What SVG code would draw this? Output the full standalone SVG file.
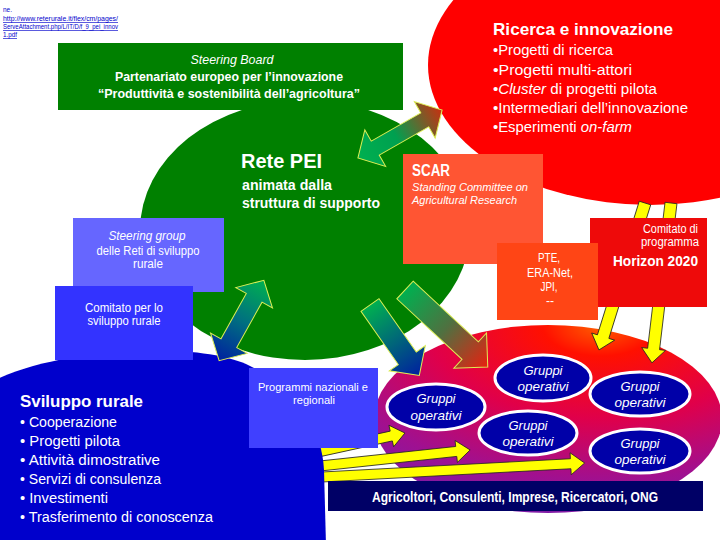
<svg xmlns="http://www.w3.org/2000/svg" width="720" height="540" viewBox="0 0 720 540">
<defs>
<style>
text{font-family:"Liberation Sans",Arial,sans-serif;fill:#fff}
.url{font-size:6.5px;fill:#0000CC;text-decoration:underline}
.ga{stroke:#DDEE55;stroke-width:1}
.ya{fill:#FFFF00;stroke:#222;stroke-width:0.8}
.go{fill:#0000A8;stroke:#fff;stroke-width:3}
.gt{font-size:13px;font-style:italic;text-anchor:middle}
.b{font-weight:bold}
.i{font-style:italic}
</style>
<linearGradient id="gGR" x1="0" y1="0" x2="1" y2="0"><stop offset="0" stop-color="#00B050"/><stop offset="0.45" stop-color="#00A050"/><stop offset="1" stop-color="#C83010"/></linearGradient>
<linearGradient id="gBG" x1="0" y1="0" x2="1" y2="0"><stop offset="0" stop-color="#0020A0"/><stop offset="0.5" stop-color="#007080"/><stop offset="1" stop-color="#00B050"/></linearGradient>
<linearGradient id="gGB" x1="0" y1="0" x2="1" y2="0"><stop offset="0" stop-color="#00B050"/><stop offset="1" stop-color="#0020A0"/></linearGradient>
<linearGradient id="gGR2" x1="0" y1="0" x2="1" y2="0"><stop offset="0" stop-color="#00B050"/><stop offset="0.5" stop-color="#507040"/><stop offset="1" stop-color="#E82010"/></linearGradient>
<radialGradient id="gBig" cx="0.65" cy="0" r="1.1"><stop offset="0" stop-color="#FF6000"/><stop offset="0.15" stop-color="#FF1000"/><stop offset="0.45" stop-color="#E0004A"/><stop offset="0.75" stop-color="#A01090"/><stop offset="1" stop-color="#7020B0"/></radialGradient>
</defs>
<rect width="720" height="540" fill="#fff"/>

<g id="source">
<text class="url" x="3" y="12" style="text-decoration:none">ne.</text>
<text class="url" x="3" y="21" textLength="115" lengthAdjust="spacingAndGlyphs">http://www.reterurale.it/flex/cm/pages/</text>
<text class="url" x="3" y="29" textLength="115" lengthAdjust="spacingAndGlyphs">ServeAttachment.php/L/IT/D/f_9_pei_innov</text>
<text class="url" x="3" y="37" textLength="14" lengthAdjust="spacingAndGlyphs">1.pdf</text>
</g>

<g id="rete-pei-area"><ellipse cx="305" cy="230" rx="165" ry="130" fill="#008000"/></g>
<g id="ricerca-area"><ellipse cx="650" cy="65" rx="222" ry="140" fill="#FF0000"/></g>
<g id="gruppi-area"><ellipse cx="548" cy="419" rx="174" ry="94" fill="url(#gBig)"/></g>

<g id="connectors">
<polygon class="ya" transform="translate(645,203) rotate(107.4)" points="0,-6 140,-6 140,-12 154,0 140,12 140,6 0,6"/>
<polygon class="ya" transform="translate(671,203) rotate(96.8)" points="0,-6 147,-6 147,-12 161,0 147,12 147,6 0,6"/>
<polygon class="ya" transform="translate(318,452) rotate(-12.3)" points="0,-5 75,-5 75,-11 89,0 75,11 75,5 0,5"/>
<polygon class="ya" transform="translate(320,466) rotate(-6.1)" points="0,-5 137,-5 137,-11 151,0 137,11 137,5 0,5"/>
<polygon class="ya" transform="translate(322,477) rotate(-3.05)" points="0,-5 249,-5 249,-11 263,0 249,11 249,5 0,5"/>
</g>

<g id="sviluppo-rurale">
<path d="M -5,380 C 60,348 200,340 250,366 C 300,392 322,430 324,470 L 326,545 L -5,545 Z" fill="#0000CC"/>
<text class="b" x="20" y="407" font-size="17" textLength="123" lengthAdjust="spacingAndGlyphs">Sviluppo rurale</text>
<text x="20" y="427" font-size="14" textLength="97" lengthAdjust="spacingAndGlyphs">• Cooperazione</text>
<text x="20" y="446" font-size="14" textLength="100" lengthAdjust="spacingAndGlyphs">• Progetti pilota</text>
<text x="20" y="465" font-size="14" textLength="140" lengthAdjust="spacingAndGlyphs">• Attività dimostrative</text>
<text x="20" y="484" font-size="14" textLength="141" lengthAdjust="spacingAndGlyphs">• Servizi di consulenza</text>
<text x="20" y="503" font-size="14" textLength="88" lengthAdjust="spacingAndGlyphs">• Investimenti</text>
<text x="20" y="522" font-size="14" textLength="193" lengthAdjust="spacingAndGlyphs">• Trasferimento di conoscenza</text>
</g>

<g id="steering-board">
<rect x="58" y="43" width="345" height="67" fill="#008000"/>
<text class="i" x="232" y="64" font-size="13" text-anchor="middle" textLength="83" lengthAdjust="spacingAndGlyphs">Steering Board</text>
<text class="b" x="229" y="81" font-size="13" text-anchor="middle" textLength="228" lengthAdjust="spacingAndGlyphs">Partenariato europeo per l’innovazione</text>
<text class="b" x="229" y="98" font-size="13" text-anchor="middle" textLength="262" lengthAdjust="spacingAndGlyphs">“Produttività e sostenibilità dell’agricoltura”</text>
</g>

<g id="steering-group">
<rect x="73" y="218" width="151" height="74" fill="#6666FF"/>
<text class="i" x="147" y="240" font-size="12" text-anchor="middle" textLength="77" lengthAdjust="spacingAndGlyphs">Steering group</text>
<text x="148" y="255" font-size="12" text-anchor="middle" textLength="103" lengthAdjust="spacingAndGlyphs">delle Reti di sviluppo</text>
<text x="148" y="268" font-size="12" text-anchor="middle" textLength="30" lengthAdjust="spacingAndGlyphs">rurale</text>
</g>

<g id="comitato-sr">
<rect x="55" y="286" width="138" height="74" fill="#3333FF"/>
<text x="124" y="312" font-size="12" text-anchor="middle" textLength="78" lengthAdjust="spacingAndGlyphs">Comitato per lo</text>
<text x="124" y="325" font-size="12" text-anchor="middle" textLength="73" lengthAdjust="spacingAndGlyphs">sviluppo rurale</text>
</g>

<g id="programmi">
<rect x="249" y="368" width="129" height="80" fill="#4040FF"/>
<text x="313" y="391" font-size="11" text-anchor="middle" textLength="110" lengthAdjust="spacingAndGlyphs">Programmi nazionali e</text>
<text x="314" y="404" font-size="11" text-anchor="middle" textLength="42" lengthAdjust="spacingAndGlyphs">regionali</text>
</g>

<g id="scar">
<rect x="403" y="154" width="140" height="110" fill="#FF5533"/>
<text class="b" x="412" y="176" font-size="16" textLength="38" lengthAdjust="spacingAndGlyphs">SCAR</text>
<text class="i" x="412" y="191" font-size="11" textLength="116" lengthAdjust="spacingAndGlyphs">Standing Committee on</text>
<text class="i" x="412" y="204" font-size="11" textLength="105" lengthAdjust="spacingAndGlyphs">Agricultural Research</text>
</g>

<g id="horizon">
<rect x="590" y="218" width="117" height="89" fill="#EE0A0A"/>
<text x="698" y="233" font-size="12" text-anchor="end" textLength="55" lengthAdjust="spacingAndGlyphs">Comitato di</text>
<text x="699" y="246" font-size="12" text-anchor="end" textLength="58" lengthAdjust="spacingAndGlyphs">programma</text>
<text class="b" x="698" y="266" font-size="15" text-anchor="end" textLength="85" lengthAdjust="spacingAndGlyphs">Horizon 2020</text>
</g>

<g id="pte">
<rect x="497" y="243" width="101" height="77" fill="#FF4515"/>
<text x="549" y="262" font-size="12" text-anchor="middle" textLength="22" lengthAdjust="spacingAndGlyphs">PTE,</text>
<text x="550" y="277" font-size="12" text-anchor="middle" textLength="46" lengthAdjust="spacingAndGlyphs">ERA-Net,</text>
<text x="549" y="291" font-size="12" text-anchor="middle" textLength="17" lengthAdjust="spacingAndGlyphs">JPI,</text>
<text x="550" y="305" font-size="12" text-anchor="middle">--</text>
</g>

<g id="connectors-green">
<polygon class="ga" fill="url(#gGR)" transform="translate(400,134) rotate(-29.7)" points="-48.5,0 -28.5,-21 -28.5,-8 28.5,-8 28.5,-21 48.5,0 28.5,21 28.5,8 -28.5,8 -28.5,21"/>
<polygon class="ga" fill="url(#gBG)" transform="translate(241.5,320.5) rotate(-60.9)" points="-46,0 -26,-21 -26,-9 26,-9 26,-21 46,0 26,21 26,9 -26,9 -26,21"/>
<polygon class="ga" fill="url(#gGB)" transform="translate(370,305) rotate(55)" points="0,-11 65,-11 65,-22 86,0 65,22 65,11 0,11"/>
<polygon class="ga" fill="url(#gGR2)" transform="translate(405,290) rotate(42.9)" points="0,-12 89,-12 89,-24 113,0 89,24 89,12 0,12"/>
</g>

<g id="rete-pei-text">
<text class="b" x="241" y="168" font-size="20" textLength="81" lengthAdjust="spacingAndGlyphs">Rete PEI</text>
<text class="b" x="242" y="190" font-size="14" textLength="90" lengthAdjust="spacingAndGlyphs">animata dalla</text>
<text class="b" x="242" y="208" font-size="14" textLength="138" lengthAdjust="spacingAndGlyphs">struttura di supporto</text>
</g>

<g id="ricerca-text">
<text class="b" x="493" y="35" font-size="17" textLength="180" lengthAdjust="spacingAndGlyphs">Ricerca e innovazione</text>
<text x="493" y="55" font-size="14" textLength="120" lengthAdjust="spacingAndGlyphs">•Progetti di ricerca</text>
<text x="493" y="75" font-size="14" textLength="139" lengthAdjust="spacingAndGlyphs">•Progetti multi-attori</text>
<text x="493" y="94" font-size="14" textLength="164" lengthAdjust="spacingAndGlyphs">•<tspan class="i">Cluster</tspan> di progetti pilota</text>
<text x="493" y="113" font-size="14" textLength="195" lengthAdjust="spacingAndGlyphs">•Intermediari dell’innovazione</text>
<text x="493" y="132" font-size="14" textLength="139" lengthAdjust="spacingAndGlyphs">•Esperimenti <tspan class="i">on-farm</tspan></text>
</g>

<g id="go1"><ellipse class="go" cx="436" cy="407" rx="49" ry="23"/><text class="gt" x="436" y="403" textLength="39" lengthAdjust="spacingAndGlyphs">Gruppi</text><text class="gt" x="436" y="420" textLength="51" lengthAdjust="spacingAndGlyphs">operativi</text></g>
<g id="go2"><ellipse class="go" cx="543" cy="378" rx="48" ry="23"/><text class="gt" x="543" y="375" textLength="39" lengthAdjust="spacingAndGlyphs">Gruppi</text><text class="gt" x="543" y="391" textLength="51" lengthAdjust="spacingAndGlyphs">operativi</text></g>
<g id="go3"><ellipse class="go" cx="640" cy="394" rx="50" ry="22"/><text class="gt" x="640" y="391" textLength="39" lengthAdjust="spacingAndGlyphs">Gruppi</text><text class="gt" x="640" y="407" textLength="51" lengthAdjust="spacingAndGlyphs">operativi</text></g>
<g id="go4"><ellipse class="go" cx="528" cy="433" rx="49" ry="22"/><text class="gt" x="528" y="430" textLength="39" lengthAdjust="spacingAndGlyphs">Gruppi</text><text class="gt" x="528" y="446" textLength="51" lengthAdjust="spacingAndGlyphs">operativi</text></g>
<g id="go5"><ellipse class="go" cx="640" cy="451" rx="50" ry="22"/><text class="gt" x="640" y="448" textLength="39" lengthAdjust="spacingAndGlyphs">Gruppi</text><text class="gt" x="640" y="464" textLength="51" lengthAdjust="spacingAndGlyphs">operativi</text></g>

<g id="attori">
<rect x="328" y="481" width="375" height="30" fill="#000066"/>
<text class="b" x="515" y="502" font-size="14" text-anchor="middle" textLength="286" lengthAdjust="spacingAndGlyphs">Agricoltori, Consulenti, Imprese, Ricercatori, ONG</text>
</g>
</svg>
